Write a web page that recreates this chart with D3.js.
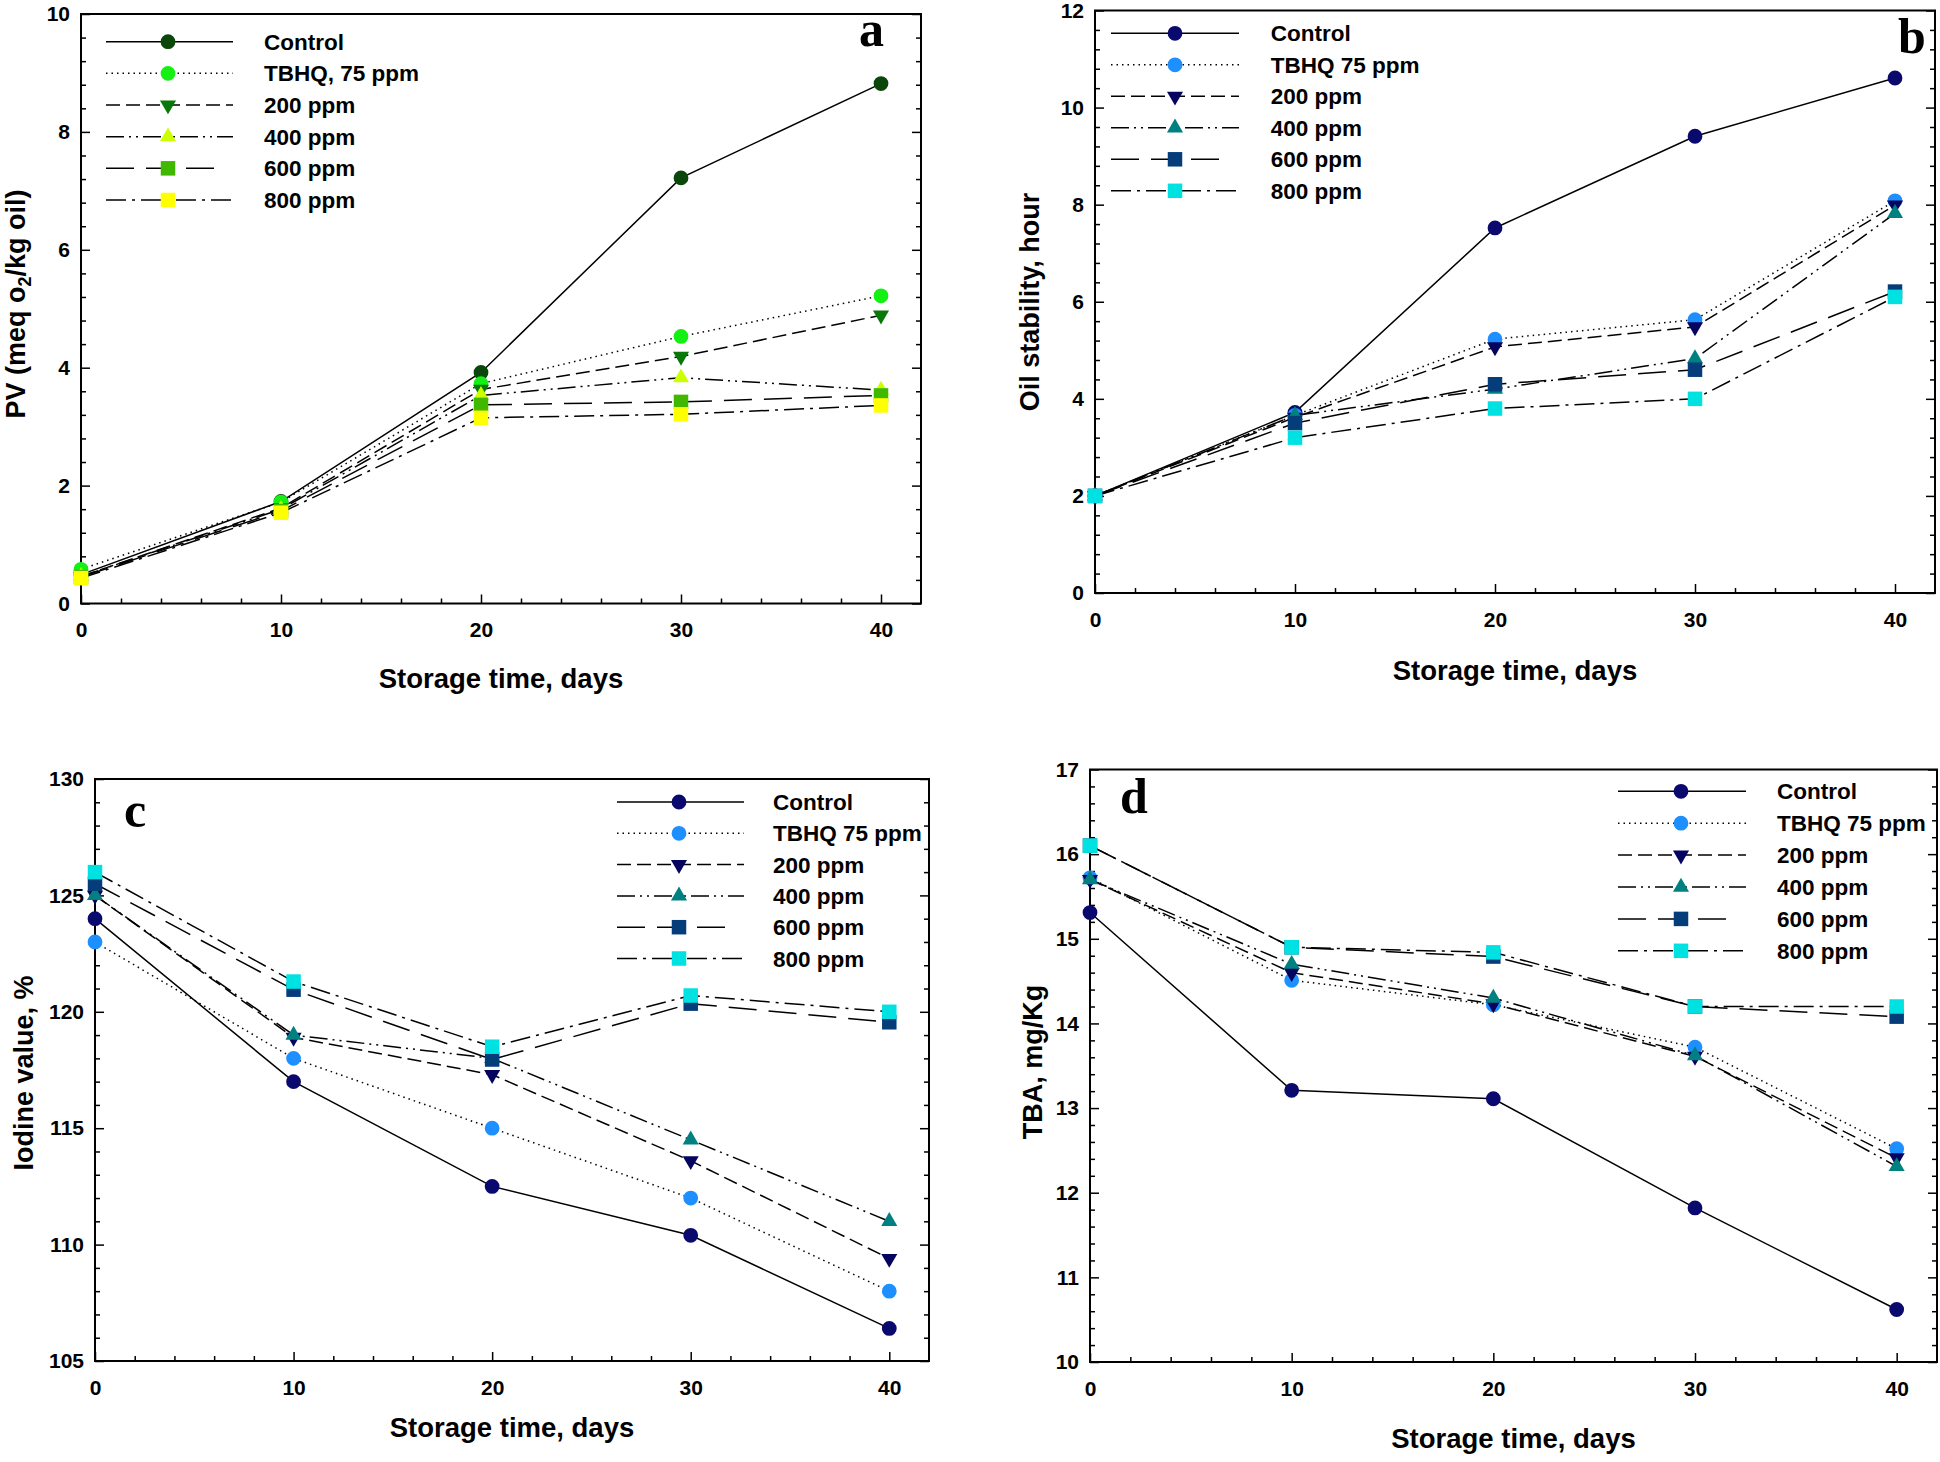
<!DOCTYPE html>
<html><head><meta charset="utf-8">
<script src="https://cdn.jsdelivr.net/npm/d3@7"></script>
<style>body{margin:0;background:#fff} svg{display:block}</style>
</head><body>
<script>
// ---------- DATA ----------
const days = [0, 10, 20, 30, 40];
const xTickValues = [0, 10, 20, 30, 40];
const namesA = ["Control", "TBHQ, 75 ppm", "200 ppm", "400 ppm", "600 ppm", "800 ppm"];
const namesBCD = ["Control", "TBHQ 75 ppm", "200 ppm", "400 ppm", "600 ppm", "800 ppm"];

// Panel a: PV (meq O2/kg oil)
const pvControl = [0.49, 1.73, 3.92, 7.22, 8.82];
const pvTBHQ    = [0.58, 1.72, 3.73, 4.53, 5.22];
const pv200     = [0.46, 1.62, 3.63, 4.19, 4.89];
const pv400     = [0.46, 1.60, 3.53, 3.83, 3.62];
const pv600     = [0.45, 1.57, 3.37, 3.42, 3.53];
const pv800     = [0.43, 1.54, 3.15, 3.21, 3.36];

// Panel b: Oil stability, hour
const osControl = [2.0, 3.72, 7.52, 9.41, 10.61];
const osTBHQ    = [2.0, 3.66, 5.23, 5.63, 8.08];
const os200     = [2.0, 3.62, 5.07, 5.48, 7.99];
const os400     = [2.0, 3.66, 4.20, 4.83, 7.82];
const os600     = [2.0, 3.50, 4.30, 4.60, 6.21];
const os800     = [2.0, 3.20, 3.80, 4.00, 6.10];

// Panel c: Iodine value, %
const ivControl = [124.0, 117.0, 112.5, 110.4, 106.4];
const ivTBHQ    = [123.0, 118.0, 115.0, 112.0, 108.0];
const iv200     = [125.0, 118.9, 117.3, 113.6, 109.4];
const iv400     = [125.0, 119.0, 118.0, 114.5, 111.0];
const iv600     = [125.5, 120.95, 117.95, 120.35, 119.55];
const iv800     = [126.0, 121.3, 118.5, 120.7, 120.0];

// Panel d: TBA, mg/Kg
const tbaControl = [15.31, 13.21, 13.11, 11.82, 10.62];
const tbaTBHQ    = [15.72, 14.51, 14.22, 13.72, 12.52];
const tba200     = [15.70, 14.60, 14.23, 13.61, 12.41];
const tba400     = [15.70, 14.70, 14.30, 13.62, 12.31];
const tba600     = [16.10, 14.90, 14.79, 14.20, 14.08];
const tba800     = [16.10, 14.90, 14.84, 14.20, 14.20];

const yTicksA = [0, 2, 4, 6, 8, 10];
const yTicksB = [0, 2, 4, 6, 8, 10, 12];
const yTicksC = [105, 110, 115, 120, 125, 130];
const yTicksD = [10, 11, 12, 13, 14, 15, 16, 17];

const colorsA = ["#0b470b", "#14f014", "#087808", "#ccff00", "#40b800", "#ffff00"];
const colorsB = ["#0a0a6e", "#1e8fff", "#050560", "#008080", "#053d7a", "#00e2e2"];

// ---------- STYLE ----------
const markerTypes = ["circle", "circle", "down", "up", "square", "square"];
const dashes = [null, "1.5,4", "14,6", "18,5,2,5,2,5", "28,12", "20,6,3,6"];
const SANS = "'Liberation Sans', Arial, Helvetica, sans-serif";
const SERIF = "'Liberation Serif', 'Times New Roman', serif";

const svg = d3.select("body").append("svg").attr("width", 1940).attr("height", 1462);

function symPath(t) {
  if (t === "circle") return d3.symbol(d3.symbolCircle, Math.PI * 7.4 * 7.4)();
  if (t === "square") return d3.symbol(d3.symbolSquare, 14.5 * 14.5)();
  return d3.symbol(d3.symbolTriangle, 112)();
}
function symTransform(t, cx, cy) {
  return `translate(${cx},${cy})` + (t === "down" ? " rotate(180)" : "");
}
function range(a, b, s) { const r = []; for (let v = a; v <= b + 1e-9; v += s) r.push(+v.toFixed(4)); return r; }

function drawPanel(cfg) {
  const x = d3.scaleLinear().domain([0, 42]).range([cfg.left, cfg.right]);
  const y = d3.scaleLinear().domain(cfg.yDomain).range([cfg.bottom, cfg.top]);
  const g = svg.append("g");

  const styleAxis = sel => {
    sel.select(".domain").remove();
    sel.selectAll("line").attr("stroke", "#000").attr("stroke-width", 1.5);
    sel.attr("font-size", 21).attr("font-family", SANS).attr("font-weight", "bold");
    sel.selectAll("text").attr("fill", "#000");
  };

  // x axis major + minor
  const xMinor = range(0, 40, 2).filter(v => !xTickValues.includes(v));
  g.append("g").attr("transform", `translate(0,${cfg.bottom})`)
    .call(d3.axisBottom(x).tickValues(xTickValues).tickSize(-9).tickSizeOuter(0).tickPadding(19).tickFormat(d3.format("d")))
    .call(styleAxis);
  g.append("g").attr("transform", `translate(0,${cfg.bottom})`)
    .call(d3.axisBottom(x).tickValues(xMinor).tickSize(-5).tickSizeOuter(0).tickFormat(""))
    .call(styleAxis);

  // y axis left + right
  const yMinor = range(cfg.yDomain[0], cfg.yDomain[1], cfg.yMinorStep).filter(v => !cfg.yTicks.some(t => Math.abs(t - v) < 1e-6));
  g.append("g").attr("transform", `translate(${cfg.left},0)`)
    .call(d3.axisLeft(y).tickValues(cfg.yTicks).tickSize(-9).tickSizeOuter(0).tickPadding(11).tickFormat(d3.format("d")))
    .call(styleAxis);
  g.append("g").attr("transform", `translate(${cfg.left},0)`)
    .call(d3.axisLeft(y).tickValues(yMinor).tickSize(-5).tickSizeOuter(0).tickFormat(""))
    .call(styleAxis);
  g.append("g").attr("transform", `translate(${cfg.right},0)`)
    .call(d3.axisRight(y).tickValues(cfg.yTicks).tickSize(-9).tickSizeOuter(0).tickFormat(""))
    .call(styleAxis);
  g.append("g").attr("transform", `translate(${cfg.right},0)`)
    .call(d3.axisRight(y).tickValues(yMinor).tickSize(-5).tickSizeOuter(0).tickFormat(""))
    .call(styleAxis);

  // frame
  g.append("rect").attr("x", cfg.left).attr("y", cfg.top)
    .attr("width", cfg.right - cfg.left).attr("height", cfg.bottom - cfg.top)
    .attr("fill", "none").attr("stroke", "#000").attr("stroke-width", 2);

  // lines
  const line = d3.line().x((d, i) => x(days[i])).y(d => y(d));
  cfg.series.forEach((s, i) => {
    g.append("path").attr("d", line(s)).attr("fill", "none").attr("stroke", "#000")
      .attr("stroke-width", 1.5).attr("stroke-dasharray", dashes[i]);
  });
  // markers
  cfg.series.forEach((s, i) => {
    g.selectAll(null).data(s).enter().append("path")
      .attr("d", symPath(markerTypes[i]))
      .attr("transform", (d, j) => symTransform(markerTypes[i], x(days[j]), y(d)))
      .attr("fill", cfg.colors[i]);
  });

  // legend
  const L = cfg.legend;
  cfg.names.forEach((n, i) => {
    const ly = L.top + i * L.step;
    g.append("line").attr("x1", L.x1).attr("x2", i === 4 ? L.x2 - 10 : L.x2).attr("y1", ly).attr("y2", ly)
      .attr("stroke", "#000").attr("stroke-width", 1.5).attr("stroke-dasharray", dashes[i]);
    g.append("path").attr("d", symPath(markerTypes[i])).attr("transform", symTransform(markerTypes[i], L.mx, ly))
      .attr("fill", cfg.colors[i]);
    g.append("text").attr("x", L.tx).attr("y", ly).attr("dy", "0.36em").text(n)
      .attr("font-family", SANS).attr("font-weight", "bold").attr("font-size", 22.5).attr("fill", "#000");
  });

  // panel letter
  g.append("text").attr("x", cfg.letter.x).attr("y", cfg.letter.y).text(cfg.letter.t)
    .attr("font-family", SERIF).attr("font-weight", "bold").attr("font-size", 50).attr("fill", "#000");

  // x title
  g.append("text").attr("x", (cfg.left + cfg.right) / 2).attr("y", cfg.xTitleY).attr("text-anchor", "middle")
    .attr("font-family", SANS).attr("font-weight", "bold").attr("font-size", 27.5).attr("fill", "#000")
    .text("Storage time, days");

  // y title
  const yt = g.append("text").attr("transform", `translate(${cfg.yTitleX},${cfg.yTitleCY}) rotate(-90)`)
    .attr("text-anchor", "middle").attr("font-family", SANS).attr("font-weight", "bold")
    .attr("font-size", 27).attr("fill", "#000");
  if (cfg.yTitleSub) {
    yt.append("tspan").text(cfg.yTitle[0]);
    yt.append("tspan").attr("font-size", 18).attr("dy", 6).text(cfg.yTitle[1]);
    yt.append("tspan").attr("dy", -6).text(cfg.yTitle[2]);
  } else {
    yt.text(cfg.yTitle);
  }
}

drawPanel({
  left: 81, right: 921, top: 14, bottom: 603.5, yDomain: [0, 10], yTicks: yTicksA, yMinorStep: 0.4,
  series: [pvControl, pvTBHQ, pv200, pv400, pv600, pv800], colors: colorsA, names: namesA,
  legend: { x1: 106, x2: 233, mx: 168, tx: 264, top: 41.7, step: 31.66 },
  letter: { x: 859, y: 46, t: "a" },
  xTitleY: 688, yTitleX: 25, yTitleCY: 304, yTitleSub: true, yTitle: ["PV (meq o", "2", "/kg oil)"]
});
drawPanel({
  left: 1095, right: 1935, top: 10.5, bottom: 593, yDomain: [0, 12], yTicks: yTicksB, yMinorStep: 0.4,
  series: [osControl, osTBHQ, os200, os400, os600, os800], colors: colorsB, names: namesBCD,
  legend: { x1: 1111, x2: 1239, mx: 1175, tx: 1270.7, top: 33.3, step: 31.5 },
  letter: { x: 1898, y: 53, t: "b" },
  xTitleY: 680, yTitleX: 1039, yTitleCY: 302, yTitle: "Oil stability, hour"
});
drawPanel({
  left: 95, right: 929, top: 779, bottom: 1361, yDomain: [105, 130], yTicks: yTicksC, yMinorStep: 1,
  series: [ivControl, ivTBHQ, iv200, iv400, iv600, iv800], colors: colorsB, names: namesBCD,
  legend: { x1: 617, x2: 744, mx: 679, tx: 773, top: 802, step: 31.3 },
  letter: { x: 124, y: 827, t: "c" },
  xTitleY: 1437, yTitleX: 33, yTitleCY: 1073, yTitle: "Iodine value, %"
});
drawPanel({
  left: 1090, right: 1937, top: 769.5, bottom: 1362, yDomain: [10, 17], yTicks: yTicksD, yMinorStep: 0.2,
  series: [tbaControl, tbaTBHQ, tba200, tba400, tba600, tba800], colors: colorsB, names: namesBCD,
  legend: { x1: 1618, x2: 1746, mx: 1681, tx: 1777, top: 791.3, step: 31.9 },
  letter: { x: 1120, y: 813, t: "d" },
  xTitleY: 1448, yTitleX: 1042, yTitleCY: 1062, yTitle: "TBA, mg/Kg"
});
</script>
</body></html>
